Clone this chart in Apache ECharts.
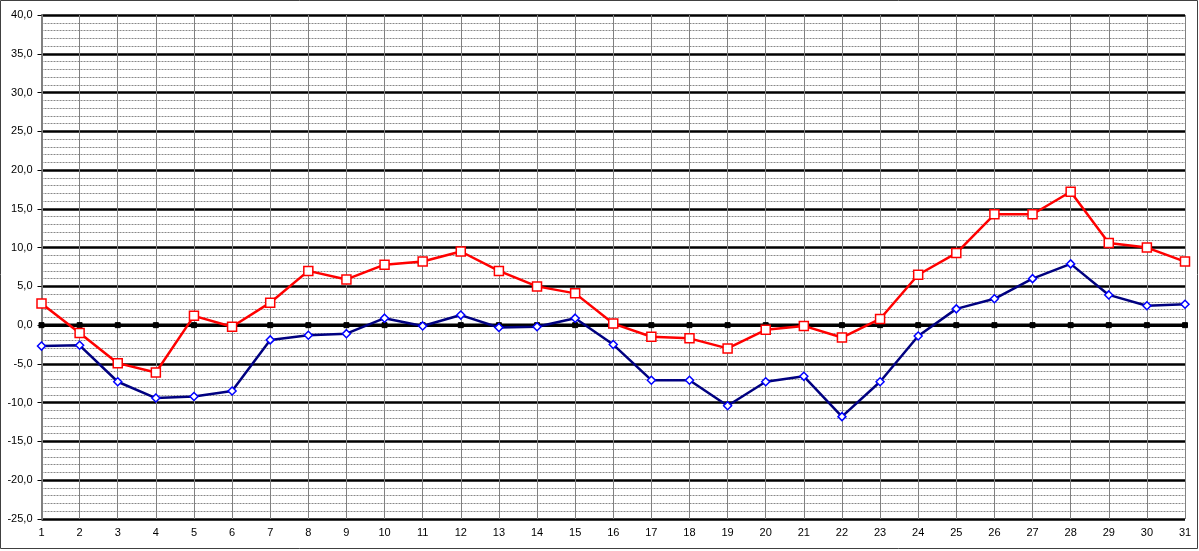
<!DOCTYPE html>
<html>
<head>
<meta charset="utf-8">
<script src="https://cdn.jsdelivr.net/npm/echarts@6/dist/echarts.min.js"></script>
<style>
html,body{margin:0;padding:0;background:#fff;}
#chart{width:1199px;height:551px;}
</style>
</head>
<body>
<div id="chart"></div>
<script>
const days = ['1','2','3','4','5','6','7','8','9','10','11','12','13','14','15','16','17','18','19','20','21','22','23','24','25','26','27','28','29','30','31'];
const redValues = [2.8,-1.0,-4.9,-6.1,1.2,-0.2,2.9,7.0,5.9,7.8,8.2,9.5,7.0,5.0,4.1,0.2,-1.5,-1.7,-3.0,-0.6,-0.1,-1.6,0.8,6.5,9.3,14.3,14.3,17.2,10.6,10.0,8.2];
const blueValues = [-2.7,-2.6,-7.3,-9.4,-9.2,-8.5,-1.9,-1.3,-1.1,0.9,-0.1,1.3,-0.3,-0.2,0.9,-2.5,-7.1,-7.1,-10.4,-7.3,-6.6,-11.8,-7.3,-1.4,2.1,3.4,6.0,7.9,3.9,2.5,2.7];
const zeroValues = days.map(() => 0);
const yMin = -25, yMax = 40, yStep = 5;

const chart = echarts.init(document.getElementById('chart'), null, {renderer: 'canvas'});
chart.setOption({
  animation: false,
  backgroundColor: '#ffffff',
  textStyle: {fontFamily: 'Liberation Sans, Arial, sans-serif'},
  graphic: [{
    type: 'rect', z: 100, silent: true,
    shape: {x: 0.5, y: 0.5, width: 1197, height: 548},
    style: {fill: 'none', stroke: '#404040', lineWidth: 1}
  }],
  grid: {left: 41.5, right: 14, top: 15, bottom: 32, containLabel: false},
  xAxis: {
    type: 'category',
    data: days,
    boundaryGap: false,
    axisLine: {show: true, lineStyle: {color: '#808080', width: 2}},
    axisTick: {show: false},
    axisLabel: {color: '#000', fontSize: 11, margin: 8, interval: 0},
    splitLine: {show: true, lineStyle: {color: '#808080', width: 1}}
  },
  yAxis: {
    type: 'value',
    min: yMin, max: yMax, interval: yStep,
    axisLine: {show: true, lineStyle: {color: '#808080', width: 2}},
    axisTick: {show: true, length: 4, lineStyle: {color: '#000', width: 1}},
    axisLabel: {color: '#000', fontSize: 11, margin: 9,
      formatter: v => v.toFixed(1).replace('.', ',')},
    splitLine: {show: true, lineStyle: {color: '#000', width: 2.5}},
    minorTick: {show: false, splitNumber: 5},
    minorSplitLine: {show: true, lineStyle: {color: '#888', width: 1, type: [2, 1]}}
  },
  series: [
    {
      name: 'zero', type: 'line', data: zeroValues, z: 2,
      symbol: 'rect', symbolSize: 5, showSymbol: true,
      lineStyle: {color: '#000', width: 3.5},
      itemStyle: {color: '#000', borderColor: '#000'}
    },
    {
      name: 'min', type: 'line', data: blueValues, z: 3,
      symbol: 'diamond', symbolSize: 8,
      lineStyle: {color: '#000080', width: 2.5},
      itemStyle: {color: '#ffffff', borderColor: '#0000ff', borderWidth: 1.5}
    },
    {
      name: 'max', type: 'line', data: redValues, z: 4,
      symbol: 'rect', symbolSize: 9,
      lineStyle: {color: '#ff0000', width: 2.5},
      itemStyle: {color: '#ffffff', borderColor: '#ff0000', borderWidth: 1.5}
    }
  ]
});
</script>
</body>
</html>
